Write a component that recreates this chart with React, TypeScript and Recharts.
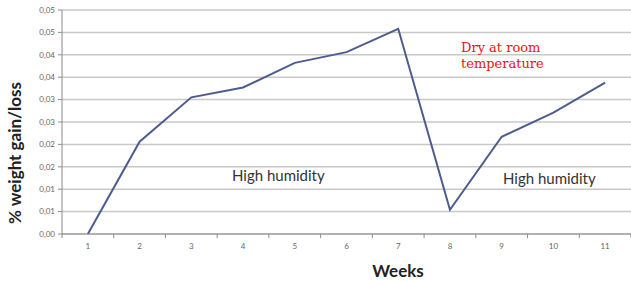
import React from 'react';
import { LineChart, Line, XAxis, YAxis, CartesianGrid, Label } from 'recharts';

const weeks = ['1', '2', '3', '4', '5', '6', '7', '8', '9', '10', '11'];
const weightChange = [0, 0.0206, 0.0305, 0.0327, 0.0382, 0.0406, 0.0458, 0.0054, 0.0217, 0.0271, 0.0338];
const yTicks = [0, 0.005, 0.01, 0.015, 0.02, 0.025, 0.03, 0.035, 0.04, 0.045, 0.05];

const data = weeks.map((week, i) => ({ week, value: weightChange[i] }));

const W = 631;
const H = 281;
const PLOT_LEFT = 62;
const PLOT_BOTTOM = 234;
const BAND = (W - PLOT_LEFT) / weeks.length;
const AXIS_GREY = '#8c8c8c';

// excel style: 0.005 -> "0,01"
const fmt = (v: number) => (Math.round(v * 100 + 1e-6) / 100).toFixed(2).replace('.', ',');

const WeekTick = (props: any) => {
  const { x, payload, index } = props;
  const left = x - BAND / 2;
  return (
    <g>
      <line x1={left} x2={left} y1={PLOT_BOTTOM} y2={PLOT_BOTTOM + 4} stroke={AXIS_GREY} />
      {index === weeks.length - 1 && (
        <line x1={left + BAND} x2={left + BAND} y1={PLOT_BOTTOM} y2={PLOT_BOTTOM + 4} stroke={AXIS_GREY} />
      )}
      <text x={x} y={PLOT_BOTTOM + 15} textAnchor="middle" fontSize={8} fill="#666" fontFamily="Lato">
        {payload.value}
      </text>
    </g>
  );
};

const App: React.FC = () => {
  return (
    <div style={{ position: 'absolute', left: 0, top: 0, width: W, height: H, background: '#fff' }}>
      <LineChart width={W} height={H} data={data} margin={{ top: 10, right: 0, left: 0, bottom: 0 }}>
        <CartesianGrid vertical={false} stroke="#c8c8c8" strokeWidth={1.5} />
        <XAxis
          dataKey="week"
          scale="band"
          height={H - PLOT_BOTTOM}
          stroke={AXIS_GREY}
          tickLine={false}
          tick={<WeekTick />}
          interval={0}
        >
          <Label
            content={() => (
              <text x={398} y={277} textAnchor="middle" fontSize={17} fontWeight="bold" fontFamily="Lato" fill="#222">
                Weeks
              </text>
            )}
          />
        </XAxis>
        <YAxis
          width={PLOT_LEFT}
          domain={[0, 0.05]}
          ticks={yTicks}
          tickFormatter={fmt}
          stroke={AXIS_GREY}
          tickSize={4}
          tickMargin={3}
          tick={{ fontSize: 8, fill: '#666', fontFamily: 'Lato' }}
          interval={0}
        >
          <Label
            content={() => (
              <text
                x={21}
                y={153}
                transform="rotate(-90 21 153)"
                textAnchor="middle"
                fontSize={17}
                fontWeight="bold"
                fontFamily="Lato"
                fill="#222"
              >
                % weight gain/loss
              </text>
            )}
          />
        </YAxis>
        <Line
          type="linear"
          dataKey="value"
          stroke="#4d5c8e"
          strokeWidth={2}
          dot={false}
          isAnimationActive={false}
        />
      </LineChart>
      <svg width={W} height={H} style={{ position: 'absolute', left: 0, top: 0, pointerEvents: 'none' }}>
        <text x={232} y={181} fontSize={15} fontFamily="Lato" fill="#333">High humidity</text>
        <text x={503} y={184} fontSize={15} fontFamily="Lato" fill="#333">High humidity</text>
        <text fontSize={13} fontFamily="DejaVu Serif" fill="#f01010">
          <tspan x={461} y={52}>Dry at room</tspan>
          <tspan x={461} y={68}>temperature</tspan>
        </text>
      </svg>
    </div>
  );
};

export default App;
